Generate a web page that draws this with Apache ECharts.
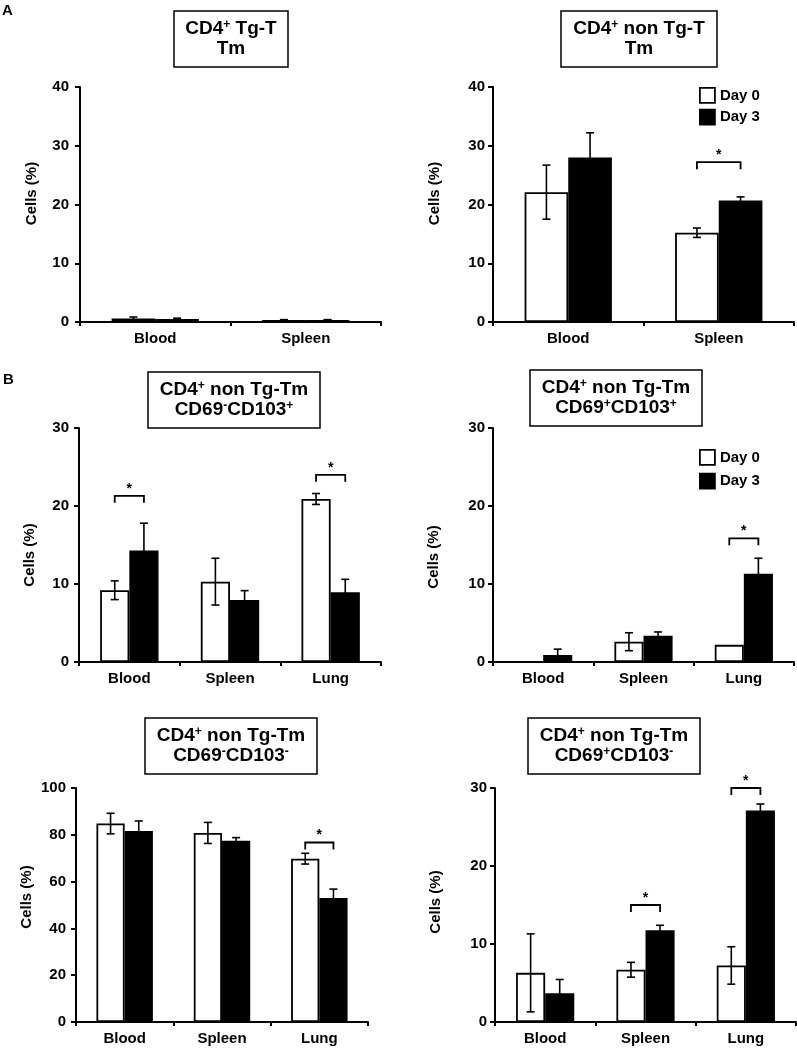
<!DOCTYPE html>
<html><head><meta charset="utf-8">
<script src="https://cdn.jsdelivr.net/npm/echarts@6/dist/echarts.min.js"></script>
<style>html,body{margin:0;padding:0;background:#fff}#c{width:797px;height:1049px}</style>
</head><body><div id="c"></div>
<script>
// ---------- DATA ----------
const catsA = ['Blood', 'Spleen'];
const catsB = ['Blood', 'Spleen', 'Lung'];

// A left: CD4+ Tg-T Tm
const tgTmDay0 = [0.6, 0.35];
const tgTmDay0Err = [0.25, 0.05];
const tgTmDay3 = [0.5, 0.35];
const tgTmDay3Err = [0.15, 0.05];

// A right: CD4+ non Tg-T Tm
const nonTmDay0 = [22.1, 15.2];
const nonTmDay0Err = [4.6, 0.8];
const nonTmDay3 = [28.0, 20.7];
const nonTmDay3Err = [4.2, 0.6];
const nonTmSig = [[1, 27.2]];

// B left: CD69-CD103+
const mpDay0 = [9.2, 10.3, 20.9];
const mpDay0Err = [1.2, 3.0, 0.7];
const mpDay3 = [14.3, 7.95, 8.95];
const mpDay3Err = [3.5, 1.2, 1.65];
const mpSig = [[0, 21.3], [2, 24.0]];

// B right: CD69+CD103+
const ppDay0 = [0, 2.6, 2.2];
const ppDay0Err = [0, 1.15, 0];
const ppDay3 = [0.9, 3.35, 11.3];
const ppDay3Err = [0.75, 0.5, 2.0];
const ppSig = [[2, 15.85]];

// C left: CD69-CD103-
const mmDay0 = [84.8, 80.8, 69.8];
const mmDay0Err = [4.4, 4.5, 2.3];
const mmDay3 = [81.6, 77.5, 53.0];
const mmDay3Err = [4.3, 1.3, 3.8];
const mmSig = [[2, 76.7]];

// C right: CD69+CD103-
const pmDay0 = [6.3, 6.7, 7.25];
const pmDay0Err = [5.0, 0.95, 2.4];
const pmDay3 = [3.7, 11.75, 27.1];
const pmDay3Err = [1.75, 0.65, 0.85];
const pmSig = [[1, 15.0], [2, 30.0]];

// ---------- STYLE / LAYOUT ----------
const FONT = "'Liberation Sans', Arial, sans-serif";
const BAR_FRAC = 0.29;
const LW = 1.8;

const panels = [
  {grid:{left:80, top:87, width:301, height:235}, cats:catsA, max:40, interval:10, d0:tgTmDay0, e0:tgTmDay0Err, d3:tgTmDay3, e3:tgTmDay3Err, sig:[], nameGap:41, namePad:[0,0,0,22], lblMargin:11,
   title:{cx:231, top:11, text:'{n|CD4}{s|+}{n| Tg-T}\n{n|Tm}'}},
  {grid:{left:493, top:87, width:301, height:235}, cats:catsA, max:40, interval:10, d0:nonTmDay0, e0:nonTmDay0Err, d3:nonTmDay3, e3:nonTmDay3Err, sig:nonTmSig, nameGap:51, namePad:[0,0,0,22], lblMargin:8,
   title:{cx:639, top:11, text:'{n|CD4}{s|+}{n| non Tg-T}\n{n|Tm}'}},
  {grid:{left:79, top:428, width:302, height:234}, cats:catsB, max:30, interval:10, d0:mpDay0, e0:mpDay0Err, d3:mpDay3, e3:mpDay3Err, sig:mpSig, nameGap:42, namePad:[0,20,0,0], lblMargin:10,
   title:{cx:234, top:372, text:'{n|CD4}{s|+}{n| non Tg-Tm}\n{n|CD69}{s|-}{n|CD103}{s|+}'}},
  {grid:{left:493, top:428, width:301, height:234}, cats:catsB, max:30, interval:10, d0:ppDay0, e0:ppDay0Err, d3:ppDay3, e3:ppDay3Err, sig:ppSig, nameGap:52, namePad:[0,24,0,0], lblMargin:8,
   title:{cx:616, top:370, text:'{n|CD4}{s|+}{n| non Tg-Tm}\n{n|CD69}{s|+}{n|CD103}{s|+}'}},
  {grid:{left:76, top:788, width:292, height:234}, cats:catsB, max:100, interval:20, d0:mmDay0, e0:mmDay0Err, d3:mmDay3, e3:mmDay3Err, sig:mmSig, nameGap:42, namePad:[0,0,0,16], lblMargin:10,
   title:{cx:231, top:718, text:'{n|CD4}{s|+}{n| non Tg-Tm}\n{n|CD69}{s|-}{n|CD103}{s|-}'}},
  {grid:{left:495, top:788, width:301, height:234}, cats:catsB, max:30, interval:10, d0:pmDay0, e0:pmDay0Err, d3:pmDay3, e3:pmDay3Err, sig:pmSig, nameGap:52, namePad:[0,0,0,6], lblMargin:8,
   title:{cx:614, top:718, text:'{n|CD4}{s|+}{n| non Tg-Tm}\n{n|CD69}{s|+}{n|CD103}{s|-}'}}
];

const richTitle = {
  n: {fontSize:19, fontWeight:'bold', fontFamily:FONT, color:'#000', lineHeight:20},
  s: {fontSize:12, fontWeight:'bold', fontFamily:FONT, color:'#000', lineHeight:11, verticalAlign:'top'}
};

function errSeries(g, vals, errs, side) {
  return {
    type:'custom', name:'err'+g+'_'+side, xAxisIndex:g, yAxisIndex:g, z:5, silent:true,
    encode:{x:0, y:1},
    data: vals.map((v, i) => [i, v, errs[i]]),
    renderItem: function (params, api) {
      const i = api.value(0), v = api.value(1), e = api.value(2);
      if (!e) return;
      const band = api.size([1, 0])[0];
      const off = side * band * BAR_FRAC / 2;
      const t = api.coord([i, v + e]);
      const b = api.coord([i, v - e]);
      const x = t[0] + off;
      const st = {stroke:'#000', lineWidth:1.6};
      return {type:'group', children:[
        {type:'line', shape:{x1:x, y1:t[1], x2:x, y2:b[1]}, style:st},
        {type:'line', shape:{x1:x-4, y1:t[1], x2:x+4, y2:t[1]}, style:st},
        {type:'line', shape:{x1:x-4, y1:b[1], x2:x+4, y2:b[1]}, style:st}
      ]};
    }
  };
}

function sigSeries(g, sig) {
  return {
    type:'custom', name:'sig'+g, xAxisIndex:g, yAxisIndex:g, z:6, silent:true, clip:false,
    encode:{x:0, y:1},
    data: sig,
    renderItem: function (params, api) {
      const i = api.value(0), y = api.value(1);
      const band = api.size([1, 0])[0];
      const off = band * BAR_FRAC / 2;
      const p = api.coord([i, y]);
      const x0 = p[0] - off, x1 = p[0] + off;
      return {type:'group', children:[
        {type:'polyline', shape:{points:[[x0, p[1]+7], [x0, p[1]], [x1, p[1]], [x1, p[1]+7]]},
         style:{stroke:'#000', fill:null, lineWidth:LW}},
        {type:'text', style:{text:'*', x:p[0], y:p[1]-7, align:'center', verticalAlign:'middle',
         font:'bold 14px ' + FONT, fill:'#000'}}
      ]};
    }
  };
}

const option = {
  animation:false,
  backgroundColor:'#fff',
  title: [
    {text:'A', left:-3, top:-2, textStyle:{fontSize:15, fontWeight:'bold', fontFamily:FONT, color:'#000'}},
    {text:'B', left:-2, top:367, textStyle:{fontSize:15, fontWeight:'bold', fontFamily:FONT, color:'#000'}}
  ].concat(panels.map(p => ({
    text:p.title.text, left:p.title.cx - 12, top:p.title.top, textAlign:'center', textVerticalAlign:'top',
    padding:[8, 12, 8, 12], borderColor:'#000', borderWidth:1.5, backgroundColor:'#fff',
    textStyle:{rich:richTitle, fontSize:19, fontWeight:'bold', fontFamily:FONT, color:'#000', lineHeight:20}
  }))),
  legend: [
    {left:694, top:82, orient:'vertical', itemWidth:15, itemHeight:15, itemGap:5, icon:'rect', selectedMode:false,
     textStyle:{fontSize:15, fontWeight:'bold', fontFamily:FONT, color:'#000'},
     data:[{name:'Day 0', itemStyle:{color:'#fff', borderColor:'#000', borderWidth:LW}},
           {name:'Day 3', itemStyle:{color:'#000', borderColor:'#000', borderWidth:LW}}]},
    {left:694, top:444, orient:'vertical', itemWidth:15, itemHeight:15, itemGap:7, icon:'rect', selectedMode:false,
     textStyle:{fontSize:15, fontWeight:'bold', fontFamily:FONT, color:'#000'},
     data:[{name:'Day 0', itemStyle:{color:'#fff', borderColor:'#000', borderWidth:LW}},
           {name:'Day 3', itemStyle:{color:'#000', borderColor:'#000', borderWidth:LW}}]}
  ],
  grid: panels.map(p => Object.assign({containLabel:false}, p.grid)),
  xAxis: panels.map((p, g) => ({
    type:'category', gridIndex:g, data:p.cats,
    axisLine:{show:true, lineStyle:{color:'#000', width:2}},
    axisTick:{show:true, length:4, lineStyle:{color:'#000', width:2}},
    axisLabel:{color:'#000', fontSize:15, fontWeight:'bold', fontFamily:FONT, margin:9},
    splitLine:{show:false}
  })),
  yAxis: panels.map((p, g) => ({
    type:'value', gridIndex:g, min:0, max:p.max, interval:p.interval,
    name:'Cells (%)', nameLocation:'middle', nameGap:p.nameGap, nameRotate:90,
    nameTextStyle:{color:'#000', fontSize:15, fontWeight:'bold', fontFamily:FONT, padding:p.namePad},
    axisLine:{show:true, lineStyle:{color:'#000', width:2}},
    axisTick:{show:true, length:5, lineStyle:{color:'#000', width:2}},
    axisLabel:{color:'#000', fontSize:15, fontWeight:'bold', fontFamily:FONT, margin:p.lblMargin},
    splitLine:{show:false}
  })),
  series: []
};

panels.forEach((p, g) => {
  option.series.push({
    type:'bar', name:'Day 0', xAxisIndex:g, yAxisIndex:g, data:p.d0, barWidth:(BAR_FRAC*100)+'%', barGap:'0%',
    silent:true, itemStyle:{color:'#fff', borderColor:'#000', borderWidth:LW}
  });
  option.series.push({
    type:'bar', name:'Day 3', xAxisIndex:g, yAxisIndex:g, data:p.d3, barWidth:(BAR_FRAC*100)+'%', barGap:'0%',
    silent:true, itemStyle:{color:'#000', borderColor:'#000', borderWidth:LW}
  });
  option.series.push(errSeries(g, p.d0, p.e0, -1));
  option.series.push(errSeries(g, p.d3, p.e3, 1));
  if (p.sig.length) option.series.push(sigSeries(g, p.sig));
});

const chart = echarts.init(document.getElementById('c'), null, {renderer:'canvas'});
chart.setOption(option);
</script>
</body></html>
